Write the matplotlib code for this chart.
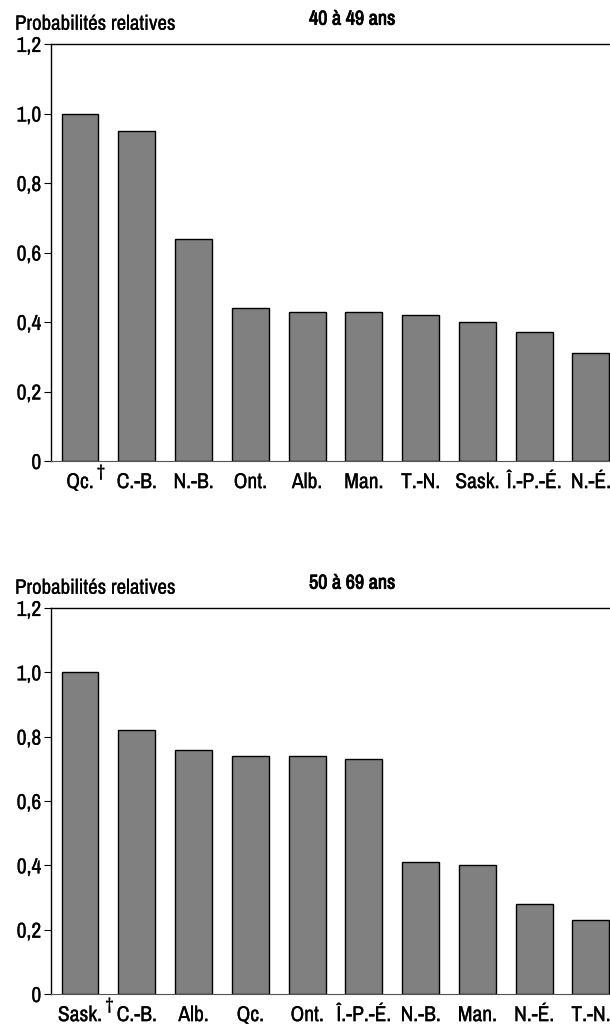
import matplotlib
matplotlib.use('Agg')
import matplotlib.pyplot as plt
import matplotlib.transforms as mtransforms
import matplotlib.patheffects as pe
from matplotlib import font_manager

# police étroite si disponible (style Arial Narrow)
narrow = [f.name for f in font_manager.fontManager.ttflist
          if 'narrow' in f.name.lower() or 'condensed' in f.name.lower()]
if narrow:
    plt.rcParams['font.family'] = [sorted(narrow)[0], 'DejaVu Sans']
    base = 15.5
else:
    plt.rcParams['font.family'] = ['Liberation Sans', 'DejaVu Sans']
    base = 13

# données
prov_40_49 = ['Qc.', 'C.-B.', 'N.-B.', 'Ont.', 'Alb.', 'Man.', 'T.-N.', 'Sask.', 'Î.-P.-É.', 'N.-É.']
vals_40_49 = [1.00, 0.95, 0.64, 0.44, 0.43, 0.43, 0.42, 0.40, 0.37, 0.31]

prov_50_69 = ['Sask.', 'C.-B.', 'Alb.', 'Qc.', 'Ont.', 'Î.-P.-É.', 'N.-B.', 'Man.', 'N.-É.', 'T.-N.']
vals_50_69 = [1.00, 0.82, 0.76, 0.74, 0.74, 0.73, 0.41, 0.40, 0.28, 0.23]

y_ticks = [0, 0.2, 0.4, 0.6, 0.8, 1.0, 1.2]
y_labels = ['0', '0,2', '0,4', '0,6', '0,8', '1,0', '1,2']

thick = [pe.withStroke(linewidth=0.15, foreground='black')]
bold = [pe.withStroke(linewidth=0.6, foreground='black')]


def draw_panel(fig, rect, labels, values, title, dagger_dx):
    ax = fig.add_axes(rect)
    x = range(len(labels))
    ax.bar(x, values, width=0.65, color='#808080', edgecolor='black', linewidth=1.0)
    ax.set_xlim(-0.51, 9.6)
    ax.set_ylim(0, 1.2)
    ax.set_yticks(y_ticks)
    ax.set_yticklabels(y_labels, fontsize=base)
    ax.set_xticks(list(x))
    ax.set_xticklabels(labels, fontsize=base)
    for t in ax.get_xticklabels() + ax.get_yticklabels():
        t.set_path_effects(thick)
    ax.tick_params(axis='x', length=0, pad=8)
    ax.tick_params(axis='y', length=5, width=0.8, pad=2)
    ax.spines['right'].set_visible(False)
    ax.spines['bottom'].set_color('#555555')
    ax.spines['left'].set_linewidth(1.0)
    ax.spines['top'].set_linewidth(1.0)
    # croix (dagger) après la première étiquette
    trans = mtransforms.blended_transform_factory(ax.transData, ax.transAxes)
    ax.annotate('†', xy=(dagger_dx, 0), xycoords=trans, xytext=(0, -8),
                textcoords='offset points', fontsize=base - 3, ha='left',
                va='center', annotation_clip=False, path_effects=thick)
    # titres
    top = rect[1] + rect[3]
    fig.text(15 / 610, top + 0.010, 'Probabilités relatives', fontsize=base - 0.5,
             ha='left', va='bottom', path_effects=thick)
    fig.text(352 / 610, top + 0.015, title, fontsize=base - 1, fontweight='bold',
             ha='center', va='bottom', path_effects=bold)
    return ax


fig = plt.figure(figsize=(6.1, 10.24), dpi=100)
draw_panel(fig, [51 / 610, 1 - 461 / 1024, 574 / 610, (461 - 44) / 1024],
           prov_40_49, vals_40_49, '40 à 49 ans', 0.3)
draw_panel(fig, [51 / 610, 1 - 994 / 1024, 574 / 610, (994 - 608) / 1024],
           prov_50_69, vals_50_69, '50 à 69 ans', 0.45)

fig.savefig('out.png', dpi=100)
